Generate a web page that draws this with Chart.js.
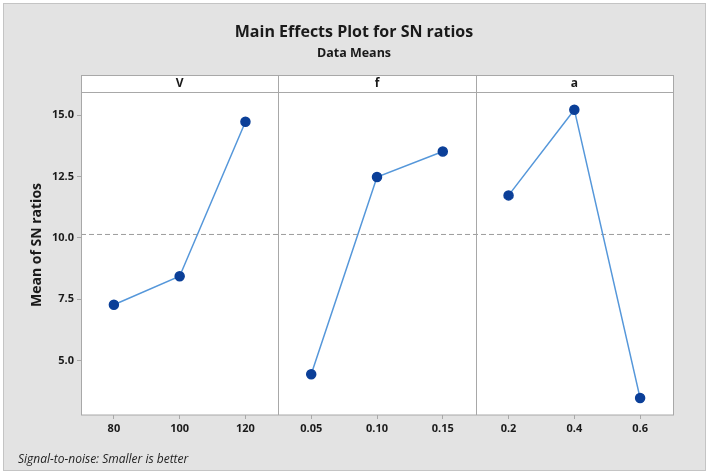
<!DOCTYPE html>
<html>
<head>
<meta charset="utf-8">
<script src="https://cdn.jsdelivr.net/npm/chart.js@4.4.1/dist/chart.umd.min.js"></script>
<style>
  html, body { margin: 0; padding: 0; background: #ffffff; }
  canvas { display: block; }
</style>
</head>
<body>
<canvas id="mainEffects" width="708" height="475"></canvas>
<script>
// Factor levels and mean SN ratios
const factorNames = ['V', 'f', 'a'];
const vLevels = ['80', '100', '120'];
const vMeans = [7.28, 8.44, 14.73];
const fLevels = ['0.05', '0.10', '0.15'];
const fMeans = [4.45, 12.48, 13.52];
const aLevels = ['0.2', '0.4', '0.6'];
const aMeans = [11.73, 15.22, 3.48];
const grandMean = 10.14;
const yTicks = [5, 7.5, 10, 12.5, 15];

const levelGroups = [vLevels, fLevels, aLevels];
const meanGroups = [vMeans, fMeans, aMeans];
const allLevels = levelGroups.flat();
const panelSize = vLevels.length;

const colors = {
    frame: '#e3e3e3',
    frameBorder: '#c4c4c4',
    border: '#a8a8a8',
    line: '#5597da',
    point: '#0b3f98',
    mean: '#9c9c9c',
    text: '#1a1a1a'
};

const fontFamily = '"Open Sans", "Noto Sans", sans-serif';

// one line per factor, placed on a shared index axis
const factorDatasets = meanGroups.map((means, p) => ({
    label: factorNames[p],
    data: means.map((y, i) => ({ x: p * panelSize + i, y })),
    borderColor: colors.line,
    borderWidth: 1.5,
    pointRadius: 4.5,
    pointHoverRadius: 4.5,
    pointBackgroundColor: colors.point,
    pointBorderColor: colors.point,
    tension: 0
}));

const meanDataset = {
    label: 'mean',
    data: [{ x: -0.5, y: grandMean }, { x: allLevels.length - 0.5, y: grandMean }],
    borderColor: colors.mean,
    borderWidth: 1,
    borderDash: [5, 3],
    pointRadius: 0
};

const panelDecor = {
    id: 'panelDecor',
    beforeDraw(chart) {
        const { ctx, chartArea: area } = chart;
        ctx.save();
        ctx.fillStyle = '#ffffff';
        ctx.fillRect(0, 0, chart.width, chart.height);
        ctx.fillStyle = colors.frame;
        ctx.fillRect(3, 3, 703, 468);
        ctx.strokeStyle = colors.frameBorder;
        ctx.lineWidth = 1;
        ctx.strokeRect(3.5, 3.5, 702, 467);
        ctx.fillStyle = '#ffffff';
        ctx.fillRect(area.left, 75, area.right - area.left, area.bottom - 75);
        ctx.restore();
    },
    afterDraw(chart) {
        const { ctx, chartArea: area } = chart;
        const x = chart.scales.x;
        const stripTop = 75.5;
        ctx.save();
        ctx.strokeStyle = colors.border;
        ctx.lineWidth = 1;
        ctx.strokeRect(Math.round(area.left) + 0.5, stripTop, Math.round(area.right - area.left), Math.round(area.bottom) - stripTop);
        ctx.beginPath();
        ctx.moveTo(area.left, Math.round(area.top) + 0.5);
        ctx.lineTo(area.right, Math.round(area.top) + 0.5);
        for (let p = 1; p < factorNames.length; p++) {
            const px = Math.round(x.getPixelForValue(p * panelSize - 0.5)) + 0.5;
            ctx.moveTo(px, stripTop);
            ctx.lineTo(px, area.bottom);
        }
        ctx.stroke();

        ctx.fillStyle = colors.text;
        ctx.textAlign = 'center';
        ctx.textBaseline = 'middle';
        ctx.font = 'bold 12px ' + fontFamily;
        factorNames.forEach((name, p) => {
            ctx.fillText(name, x.getPixelForValue(p * panelSize + 1), 84);
        });

        ctx.font = 'bold 16px ' + fontFamily;
        ctx.textBaseline = 'alphabetic';
        ctx.fillText('Main Effects Plot for SN ratios', 354, 37);
        ctx.font = 'bold 12.5px ' + fontFamily;
        ctx.fillText('Data Means', 354, 57);

        ctx.save();
        ctx.translate(41, 245);
        ctx.rotate(-Math.PI / 2);
        ctx.font = 'bold 14px ' + fontFamily;
        ctx.fillText('Mean of SN ratios', 0, 0);
        ctx.restore();

        ctx.textAlign = 'left';
        ctx.font = 'italic 12px ' + fontFamily;
        ctx.fillStyle = '#222222';
        ctx.fillText('Signal-to-noise: Smaller is better', 18, 463);
        ctx.restore();
    }
};

new Chart(document.getElementById('mainEffects'), {
    type: 'line',
    data: { datasets: [...factorDatasets, meanDataset] },
    options: {
        responsive: false,
        animation: false,
        events: [],
        clip: false,
        layout: { padding: { top: 92, right: 35, left: 0, bottom: 0 } },
        plugins: {
            legend: { display: false },
            tooltip: { enabled: false },
            title: { display: false }
        },
        scales: {
            x: {
                type: 'linear',
                min: -0.5,
                max: allLevels.length - 0.5,
                afterBuildTicks: (scale) => {
                    scale.ticks = allLevels.map((_, i) => ({ value: i }));
                },
                afterFit: (scale) => { scale.height = 60; },
                border: { display: false },
                grid: { drawOnChartArea: false, drawTicks: true, tickLength: 4, color: colors.border },
                ticks: {
                    padding: 3,
                    color: colors.text,
                    font: { family: fontFamily, size: 11, weight: 'bold' },
                    callback: (value) => allLevels[value]
                }
            },
            y: {
                min: 2.79,
                max: 15.94,
                afterBuildTicks: (scale) => {
                    scale.ticks = yTicks.map(v => ({ value: v }));
                },
                afterFit: (scale) => { scale.width = 81; },
                border: { display: false },
                grid: { drawOnChartArea: false, drawTicks: true, tickLength: 4, color: colors.border },
                ticks: {
                    padding: 3,
                    color: colors.text,
                    font: { family: fontFamily, size: 11, weight: 'bold' },
                    callback: (value) => value.toFixed(1)
                }
            }
        }
    },
    plugins: [panelDecor]
});
</script>
</body>
</html>
